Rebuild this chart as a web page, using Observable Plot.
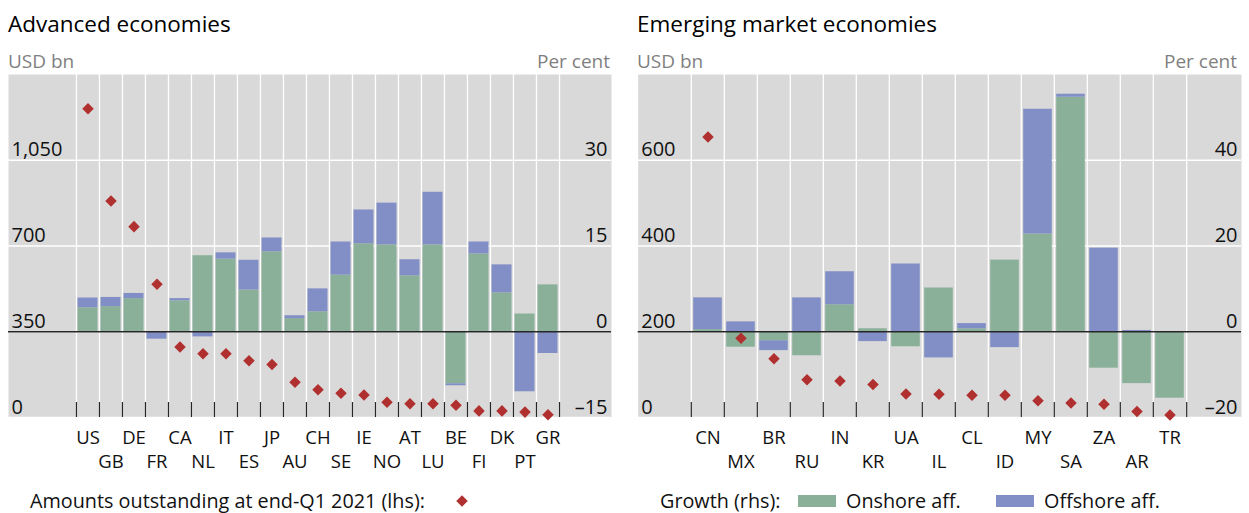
<!DOCTYPE html>
<html><head><meta charset="utf-8">
<script src="https://cdn.jsdelivr.net/npm/d3@7"></script>
<script src="https://cdn.jsdelivr.net/npm/@observablehq/plot@0.6"></script>
<style>
body{margin:0;background:#fff;font-family:"Open Sans",sans-serif;}
#root{position:relative;width:1249px;height:513px;overflow:hidden;}
#root > svg{position:absolute;}
</style></head><body><div id="root"></div>
<script>
// ---- Advanced economies ----
const advCats = ["US","GB","DE","FR","CA","NL","IT","ES","JP","AU","CH","SE","IE","NO","AT","LU","BE","FI","DK","PT","GR"];
const advAmounts = [1260,884,779,544,288,260,260,232,216,144,113,99,92,62,56,56,50,27,27,22,11];
const advOnshore = [4.2,4.4,5.8,0,5.4,13.3,12.7,7.3,14.0,2.3,3.5,9.9,15.4,15.2,9.8,15.2,-9.1,13.6,6.8,3.1,8.2];
const advOffshore = [1.7,1.6,0.9,-1.3,0.4,-0.9,1.1,5.2,2.4,0.5,4.0,5.8,5.9,7.3,2.8,9.2,-0.35,2.1,4.9,-10.5,-3.8];
const advLhsTicks = [0,350,700,1050];
const advRhsTicks = [-15,0,15,30];
const advLhsDomain = [0,1400];
const advRhsDomain = [-15,45];

// ---- Emerging market economies ----
const emeCats = ["CN","MX","BR","RU","IN","KR","UA","IL","CL","ID","MY","SA","ZA","AR","TR"];
const emeAmounts = [654,185,137,88,85,77,55,54,52,52,39,34,31,14,6];
const emeOnshore = [0.5,-3.6,-2.1,-5.6,6.3,0.7,-3.5,10.2,0.7,16.7,22.8,54.7,-8.5,-12.1,-15.5];
const emeOffshore = [7.4,2.3,-2.3,7.9,7.7,-2.3,15.8,-6.1,1.2,-3.7,29.1,0.7,19.5,0.3,0];
const emeLhsTicks = [0,200,400,600];
const emeRhsTicks = [-20,0,20,40];
const emeLhsDomain = [0,800];
const emeRhsDomain = [-20,60];

const seriesNames = ["Onshore aff.","Offshore aff."];
const GREEN = "#8ab09a", BLUE = "#828fc6", RED = "#b03030", BG = "#d9d9d9";
const FONT = "'Open Sans', sans-serif";

function panel(o) {
  const plotH = 343, marginBottom = 60;
  const n = o.cats.length;
  const bw = (o.width - o.marginLeft - o.marginRight - o.insetLeft - o.insetRight) / n;
  const toR = v => o.rhsDomain[0] + (v - o.lhsDomain[0]) * (o.rhsDomain[1] - o.rhsDomain[0]) / (o.lhsDomain[1] - o.lhsDomain[0]);
  const bars = [
    ...o.cats.map((c, i) => ({cat: c, type: seriesNames[0], value: o.onshore[i]})),
    ...o.cats.map((c, i) => ({cat: c, type: seriesNames[1], value: o.offshore[i]}))
  ];
  const pts = o.cats.map((c, i) => ({cat: c, amount: o.amounts[i]}));
  const fmtR = d => d < 0 ? "\u2013" + Math.abs(d) : String(d);
  const row1 = o.cats.filter((_, i) => i % 2 === 0);
  const row2 = o.cats.filter((_, i) => i % 2 === 1);
  const last = [o.cats[n - 1]];
  return Plot.plot({
    width: o.width, height: plotH + marginBottom,
    marginTop: 0, marginBottom, marginLeft: o.marginLeft, marginRight: o.marginRight,
    x: {type: "band", domain: o.cats, padding: 0, insetLeft: o.insetLeft, insetRight: o.insetRight, axis: null},
    y: {domain: o.rhsDomain, axis: null},
    color: {domain: seriesNames, range: [GREEN, BLUE]},
    style: {fontFamily: FONT, overflow: "visible", background: "transparent"},
    marks: [
      Plot.frame({fill: BG, stroke: "none"}),
      Plot.ruleY(o.rhsTicks, {stroke: "white", strokeWidth: 1.3}),
      Plot.ruleX(o.cats, {x: d => d, dx: -bw / 2, stroke: "white", strokeWidth: 1.3}),
      Plot.ruleX(last, {x: d => d, dx: bw / 2, stroke: "white", strokeWidth: 1.3}),
      Plot.barY(bars, {x: "cat", y: "value", fill: "type", insetLeft: o.barInset, insetRight: o.barInset}),
      Plot.ruleY([0], {stroke: "#262626", strokeWidth: 1.6}),
      Plot.ruleX(o.cats, {x: d => d, dx: -bw / 2, stroke: "#262626", strokeWidth: 1.2, insetTop: plotH - 15}),
      Plot.ruleX(last, {x: d => d, dx: bw / 2, stroke: "#262626", strokeWidth: 1.2, insetTop: plotH - 15}),
      Plot.dot(pts, {x: "cat", y: d => toR(d.amount), symbol: "diamond2", r: 5.2, fill: RED, stroke: "none"}),
      Plot.text(o.lhsTicks, {y: toR, frameAnchor: "left", textAnchor: "start", lineAnchor: "bottom", dx: 3, dy: -4, text: d => d3.format(",")(d), fontSize: 20, fill: "#111"}),
      Plot.text(o.rhsTicks, {y: d => d, frameAnchor: "right", textAnchor: "end", lineAnchor: "bottom", dx: -4, dy: -4, text: fmtR, fontSize: 20, fill: "#111"}),
      Plot.text(row1, {x: d => d, y: () => o.rhsDomain[0], lineAnchor: "bottom", dy: 26, text: d => d, fontSize: 18.5, fill: "#111"}),
      Plot.text(row2, {x: d => d, y: () => o.rhsDomain[0], lineAnchor: "bottom", dy: 50, text: d => d, fontSize: 18.5, fill: "#111"})
    ]
  });
}

const root = document.getElementById("root");

// Titles, unit labels and legend
const overlay = d3.create("svg").attr("width", 1249).attr("height", 513)
  .style("left", "0px").style("top", "0px").style("font-family", FONT);
const txt = (x, y, s, size, fill, anchor) => overlay.append("text").attr("x", x).attr("y", y)
  .attr("font-size", size).attr("fill", fill).attr("text-anchor", anchor || "start").text(s);
txt(8, 31.5, "Advanced economies", 22.5, "#000");
txt(637, 31.5, "Emerging market economies", 22.5, "#000");
txt(8, 68, "USD bn", 19, "#7f7f7f");
txt(610, 68, "Per cent", 19, "#7f7f7f", "end");
txt(637, 68, "USD bn", 19, "#7f7f7f");
txt(1237, 68, "Per cent", 19, "#7f7f7f", "end");
txt(30, 508, "Amounts outstanding at end-Q1 2021 (lhs):", 19.8, "#111");
overlay.append("path").attr("d", d3.symbol(d3.symbolDiamond2, 84.5)()).attr("transform", "translate(462,501)").attr("fill", RED);
txt(660, 508, "Growth (rhs):", 19.8, "#111");
overlay.append("rect").attr("x", 798).attr("y", 495).attr("width", 38).attr("height", 12).attr("fill", GREEN);
txt(846, 508, seriesNames[0], 19.8, "#111");
overlay.append("rect").attr("x", 996).attr("y", 495).attr("width", 38).attr("height", 12).attr("fill", BLUE);
txt(1044, 508, seriesNames[1], 19.8, "#111");
root.appendChild(overlay.node());

const left = panel({cats: advCats, amounts: advAmounts, onshore: advOnshore, offshore: advOffshore,
  lhsTicks: advLhsTicks, rhsTicks: advRhsTicks, lhsDomain: advLhsDomain, rhsDomain: advRhsDomain,
  width: 624, marginLeft: 8, marginRight: 13, insetLeft: 67.7, insetRight: 50.7, barInset: 1.5});
left.style.left = "0px"; left.style.top = "74px";
root.appendChild(left);

const right = panel({cats: emeCats, amounts: emeAmounts, onshore: emeOnshore, offshore: emeOffshore,
  lhsTicks: emeLhsTicks, rhsTicks: emeRhsTicks, lhsDomain: emeLhsDomain, rhsDomain: emeRhsDomain,
  width: 625, marginLeft: 13.7, marginRight: 8, insetLeft: 50.6, insetRight: 51.7, barInset: 2.2});
right.style.left = "624px"; right.style.top = "74px";
root.appendChild(right);
</script>
</body></html>
